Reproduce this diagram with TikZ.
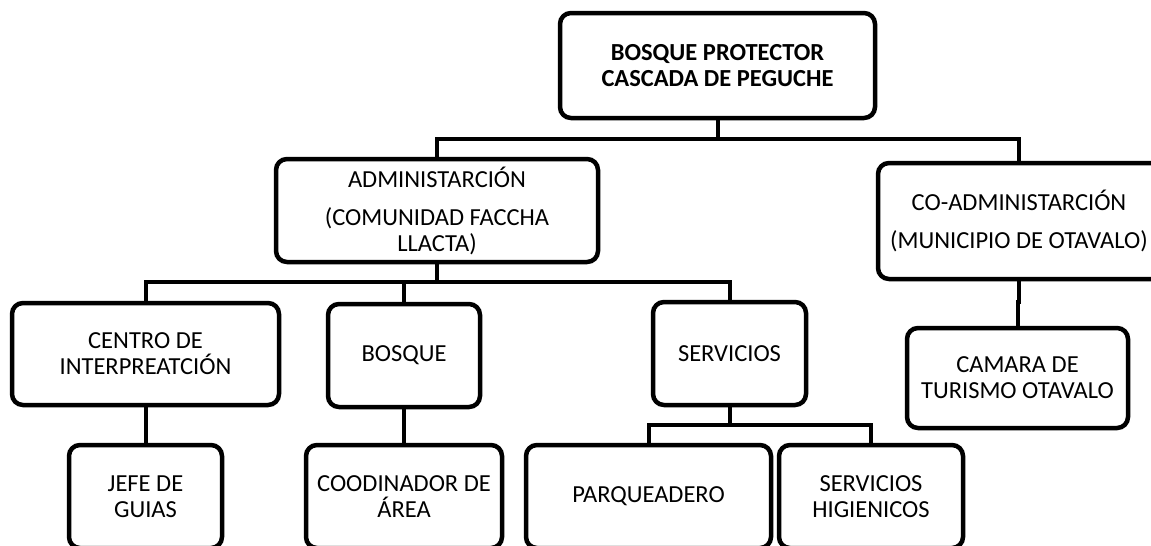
\documentclass[tikz,border=0pt]{standalone}
\usepackage{fontspec}
\setmainfont{Carlito}
\usetikzlibrary{positioning,calc}

\begin{document}
\begin{tikzpicture}[x=1pt,y=-1pt,
                org node/.style={draw,rounded corners=11pt,line width=4.5pt,align=center,
                inner sep=0pt,outer sep=0pt,font=\fontsize{24.5}{26}\selectfont},
                link/.style={line width=4pt}]
\useasboundingbox (0,0) rectangle (1151,546);
%Nodes
    \node[org node,minimum width=315pt,minimum height=105pt,font=\fontsize{24.5}{26}\selectfont\bfseries] (top) at (717.5,65.5) {BOSQUE PROTECTOR\\CASCADA DE PEGUCHE};
    \node[org node,minimum width=322pt,minimum height=103pt] (admin) at (437,210.5) {ADMINISTARCIÓN\\[12pt](COMUNIDAD FACCHA\\LLACTA)};
    \node[org node,minimum width=300pt,minimum height=116pt] (coadmin) at (1028,221) {\hspace*{-18pt}CO-ADMINISTARCIÓN\\[12pt]\hspace*{-18pt}(MUNICIPIO DE OTAVALO)};
    \node[org node,minimum width=267pt,minimum height=102pt] (centro) at (145.5,354) {CENTRO DE\\INTERPREATCIÓN};
    \node[org node,minimum width=152pt,minimum height=103pt] (bosque) at (404,355.5) {BOSQUE};
    \node[org node,minimum width=153pt,minimum height=103pt] (servicios) at (729.5,353.5) {SERVICIOS};
    \node[org node,minimum width=221pt,minimum height=100pt] (camara) at (1017.5,378) {CAMARA DE\\TURISMO OTAVALO};
    \node[org node,minimum width=153pt,minimum height=103pt] (jefe) at (145.5,496.5) {JEFE DE\\GUIAS};
    \node[org node,minimum width=196pt,minimum height=103pt] (coord) at (404,496.5) {COODINADOR DE\\ÁREA};
    \node[org node,minimum width=245pt,minimum height=103pt] (parq) at (648.5,496.5) {PARQUEADERO};
    \node[org node,minimum width=184pt,minimum height=103pt] (higien) at (871,496.5) {SERVICIOS\\HIGIENICOS};
%Lines
    \draw[link] (top.south) -- ++(0,21) -| (admin.north);
    \draw[link] (top.south) -- ++(0,21) -| ([xshift=-9pt]coadmin.north);
    \draw[link] (admin.south) -- ++(0,20) -| (centro.north);
    \draw[link] (admin.south) -- ++(0,20) -| (bosque.north);
    \draw[link] (admin.south) -- ++(0,20) -| (servicios.north);
    \draw[link] (centro.south) -- (jefe.north);
    \draw[link] (bosque.south) -- (coord.north);
    \draw[link] (servicios.south) -- ++(0,20) -| (parq.north);
    \draw[link] (servicios.south) -- ++(0,20) -| (higien.north);
    \draw[link] ([xshift=-9pt]coadmin.south) -- ++(0,23) -| (camara.north);
\end{tikzpicture}
\end{document}
